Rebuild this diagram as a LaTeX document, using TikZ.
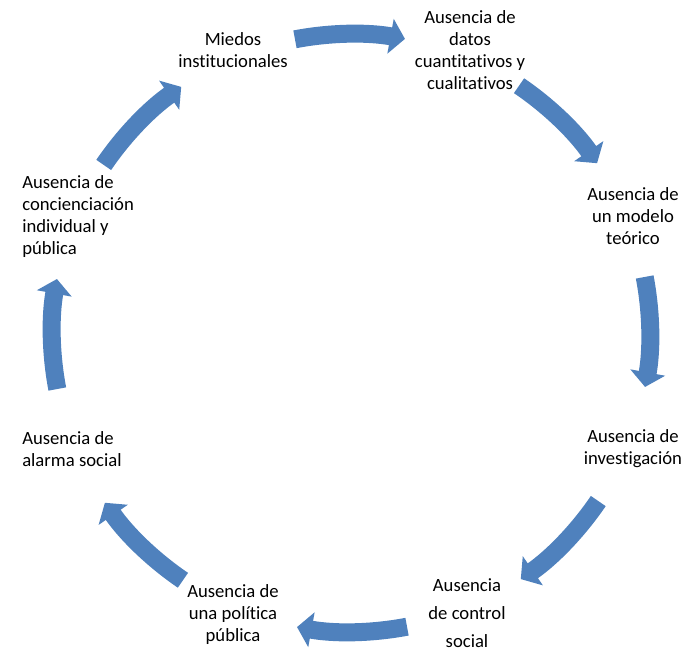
\documentclass[tikz,border=0pt]{standalone}
\usepackage{fontspec}
\setmainfont{Carlito}[Ligatures=NoCommon]
\usetikzlibrary{arrows.meta}
\definecolor{cycleblue}{HTML}{4F81BD}

\tikzset{
  stage/.style={align=center, inner sep=0pt, text=black,
    font=\fontsize{14}{16.5}\selectfont},
  stageleft/.style={stage, align=left, anchor=west},
  cyclearrow/.style={draw=cycleblue, line width=13.5pt,
    -{Triangle[width=26pt,length=11pt]}},
}

\begin{document}
\begin{tikzpicture}[x=0.75pt, y=0.75pt]
      \useasboundingbox (-351,-315) rectangle (332,333);
      % Miedos:
      %   top of the cycle, left of the first arrow
      \node[stage] (miedos) at (-118,283) {Miedos\\institucionales};
      % Datos:
      %   no quantitative or qualitative data
      \node[stage] (datos) at (119,283)
        {Ausencia de\\datos\\cuantitativos y\\cualitativos};
      % Modelo:
      %   no theoretical model
      \node[stage] (modelo) at (282,117) {Ausencia de\\un modelo\\te\'orico};
      % Investigacion:
      %   no research
      \node[stage] (investigacion) at (282,-116)
        {Ausencia de\\investigaci\'on};
      % Control:
      %   no social control, wider line spacing
      \node[stage, font=\fontsize{14}{21}\selectfont] (control) at (116,-280)
        {Ausencia\\de control\\social};
      % Politica:
      %   no public policy
      \node[stage] (politica) at (-118,-282)
        {Ausencia de\\una pol\'itica\\p\'ublica};
      % Alarma:
      %   no social alarm
      \node[stageleft] (alarma) at (-329,-116) {Ausencia de\\alarma social};
      % Concienciacion:
      %   no individual or public awareness
      \node[stageleft] (concienciacion) at (-329,116)
        {Ausencia de\\concienciaci\'on\\individual y\\p\'ublica};
      % arrows: tails on the circle, each one runs clockwise
      \coordinate (miedos-datos) at (100.8:299);
      \coordinate (datos-modelo) at (55.8:299);
      \coordinate (modelo-investigacion) at (10.8:299);
      \coordinate (investigacion-control) at (-34.2:299);
      \coordinate (control-politica) at (-79.2:299);
      \coordinate (politica-alarma) at (-124.2:299);
      \coordinate (alarma-concienciacion) at (-169.2:299);
      \coordinate (concienciacion-miedos) at (145.8:299);
      \draw[cyclearrow] (miedos-datos)
        arc[start angle=100.8, end angle=79.6, radius=299];
      \draw[cyclearrow] (datos-modelo)
        arc[start angle=55.8, end angle=34.6, radius=299];
      \draw[cyclearrow] (modelo-investigacion)
        arc[start angle=10.8, end angle=-10.4, radius=299];
      \draw[cyclearrow] (investigacion-control)
        arc[start angle=-34.2, end angle=-55.4, radius=299];
      \draw[cyclearrow] (control-politica)
        arc[start angle=-79.2, end angle=-100.4, radius=299];
      \draw[cyclearrow] (politica-alarma)
        arc[start angle=-124.2, end angle=-145.4, radius=299];
      \draw[cyclearrow] (alarma-concienciacion)
        arc[start angle=-169.2, end angle=-190.4, radius=299];
      \draw[cyclearrow] (concienciacion-miedos)
        arc[start angle=145.8, end angle=124.6, radius=299];
\end{tikzpicture}
\end{document}
